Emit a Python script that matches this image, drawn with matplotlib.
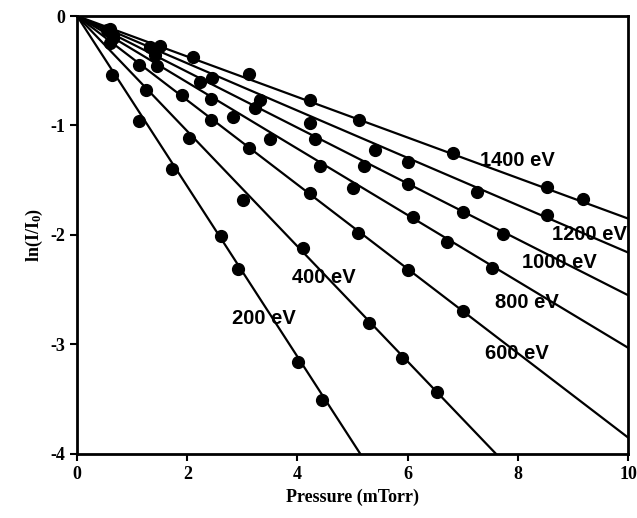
import numpy as np
from matplotlib import pyplot as plt

energies = ["1400 eV", "1200 eV", "1000 eV", "800 eV", "600 eV", "400 eV", "200 eV"]
slopes = [-0.185, -0.216, -0.255, -0.303, -0.385, -0.526, -0.778]

p_1400 = [0.6, 1.5, 2.1, 3.12, 4.23, 5.12, 6.82, 8.53, 9.18]
v_1400 = [-0.12, -0.27, -0.37, -0.53, -0.77, -0.95, -1.25, -1.56, -1.67]
p_1200 = [0.55, 1.32, 2.45, 3.32, 4.23, 5.41, 6.01, 7.26, 8.53]
v_1200 = [-0.13, -0.28, -0.57, -0.77, -0.98, -1.22, -1.33, -1.61, -1.82]
p_1000 = [0.65, 1.42, 2.23, 3.23, 4.32, 5.21, 6.0, 7.0, 7.73]
v_1000 = [-0.17, -0.36, -0.6, -0.84, -1.12, -1.37, -1.53, -1.79, -1.99]
p_800 = [0.66, 1.45, 2.43, 2.83, 3.5, 4.41, 5.01, 6.1, 6.71, 7.53]
v_800 = [-0.2, -0.46, -0.76, -0.92, -1.12, -1.37, -1.57, -1.84, -2.06, -2.3]
p_600 = [0.6, 1.13, 1.9, 2.43, 3.12, 4.23, 5.1, 6.0, 7.0]
v_600 = [-0.25, -0.45, -0.72, -0.95, -1.21, -1.62, -1.98, -2.32, -2.69]
p_400 = [1.25, 2.03, 3.01, 4.1, 5.3, 5.9, 6.53]
v_400 = [-0.68, -1.11, -1.68, -2.12, -2.8, -3.12, -3.43]
p_200 = [0.64, 1.13, 1.72, 2.61, 2.92, 4.01, 4.45]
v_200 = [-0.54, -0.96, -1.4, -2.01, -2.31, -3.16, -3.51]

pressures = [p_1400, p_1200, p_1000, p_800, p_600, p_400, p_200]
values = [v_1400, v_1200, v_1000, v_800, v_600, v_400, v_200]

# label anchor (left edge, vertical centre) in data units
label_x = [7.31, 8.62, 8.08, 7.59, 7.40, 3.90, 2.81]
label_y = [-1.32, -2.00, -2.25, -2.62, -3.08, -2.39, -2.76]

plt.rcParams['mathtext.default'] = 'regular'
fig = plt.figure(figsize=(6.37, 5.18), dpi=100)
ax = fig.add_axes([0.121, 0.1236, 0.865, 0.8455])

xfit = np.array([0, 10])
for k in range(len(energies)):
    ax.plot(xfit, slopes[k] * xfit, color='black', lw=1.6)
    ax.plot(pressures[k], values[k], 'o', color='black', ms=8.5)
    ax.text(label_x[k], label_y[k], energies[k], fontsize=14.5, fontweight='bold',
            family='Liberation Sans', va='center', ha='left', clip_on=False)

ax.set_xlim(0, 10)
ax.set_ylim(-4, 0)
ax.set_xticks([0, 2, 4, 6, 8, 10])
ax.set_yticks([0, -1, -2, -3, -4])
ax.set_yticklabels(['0', '-1', '-2', '-3', '-4'])
for sp in ax.spines.values():
    sp.set_linewidth(2)
ax.tick_params(direction='out', length=5, width=1.5, labelsize=13)
for lab in ax.get_xticklabels() + ax.get_yticklabels():
    lab.set_family('Liberation Serif')
    lab.set_fontweight('bold')

ax.set_xlabel('Pressure (mTorr)', family='Liberation Serif', fontweight='bold', fontsize=13)
ax.set_ylabel(r'ln(I/I$_0$)', family='Liberation Serif', fontweight='bold', fontsize=13)

fig.savefig('out.png', dpi=100)
